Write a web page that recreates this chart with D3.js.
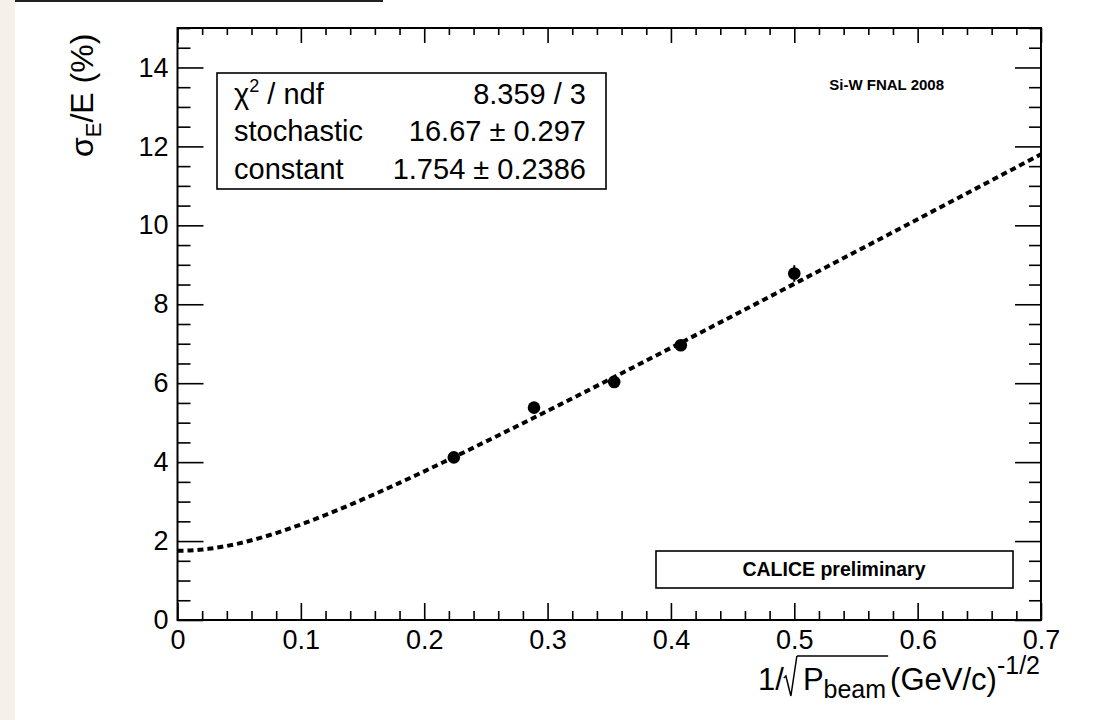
<!DOCTYPE html>
<html>
<head>
<meta charset="utf-8">
<script src="https://cdn.jsdelivr.net/npm/d3@7"></script>
<style>
  body { margin: 0; background: #fff; }
  svg text { font-family: "Liberation Sans", Arial, Helvetica, sans-serif; fill: #000; }
</style>
</head>
<body>
<div id="chart"></div>
<script>
// measured points: x = 1/sqrt(P_beam), y = sigma_E/E in %
var invSqrtP = [0.224, 0.289, 0.354, 0.408, 0.500];
var resolution = [4.12, 5.38, 6.03, 6.96, 8.78];
var resError = [0.10, 0.12, 0.12, 0.13, 0.21];

// fit results (from the stats box)
var fitStochastic = 16.67;
var fitConstant = 1.754;
var statsRows = [
    ["chi", "8.359 / 3"],
    ["stochastic", "16.67 \u00b1 0.297"],
    ["constant", "1.754 \u00b1 0.2386"]
];

var xTicks = [0, 0.1, 0.2, 0.3, 0.4, 0.5, 0.6, 0.7];
var yTicks = [0, 2, 4, 6, 8, 10, 12, 14];

var W = 1094, H = 720;
var svg = d3.select("#chart").append("svg")
        .attr("width", W)
        .attr("height", H);

// beige strip + top rule from the page the plot was cut from
svg.append("rect").attr("x", 0).attr("y", 0).attr("width", 15).attr("height", H).attr("fill", "#f5f1ea");
svg.append("line").attr("x1", 15).attr("x2", 383).attr("y1", 1).attr("y2", 1)
        .attr("stroke", "#222").attr("stroke-width", 2);

var x = d3.scaleLinear().domain([0, 0.7]).range([177.5, 1041]);
var y = d3.scaleLinear().domain([0, 15]).range([620, 28]);

var xMinor = d3.range(0, 0.7001, 0.02).filter(function (d) { return Math.abs(d * 10 - Math.round(d * 10)) > 1e-6; });
var yMinor = d3.range(0, 15.001, 0.5).filter(function (d) { return d % 2 !== 0; });

var fmtX = function (d) { return d === 0 ? "0" : d3.format(".1f")(d); };

function styleAxis(g) {
    g.select(".domain").remove();
    g.selectAll(".tick line").attr("stroke", "#000").attr("stroke-width", 1.6);
    g.selectAll(".tick text").attr("font-size", 27);
}

// bottom
svg.append("g").attr("transform", "translate(0," + y(0) + ")")
        .call(d3.axisBottom(x).tickValues(xTicks).tickSize(-17).tickPadding(10).tickFormat(fmtX))
        .call(styleAxis);
svg.append("g").attr("transform", "translate(0," + y(0) + ")")
        .call(d3.axisBottom(x).tickValues(xMinor).tickSize(-9).tickFormat(""))
        .call(styleAxis);
// top
svg.append("g").attr("transform", "translate(0," + y(15) + ")")
        .call(d3.axisTop(x).tickValues(xTicks).tickSize(-15).tickFormat(""))
        .call(styleAxis);
svg.append("g").attr("transform", "translate(0," + y(15) + ")")
        .call(d3.axisTop(x).tickValues(xMinor).tickSize(-7).tickFormat(""))
        .call(styleAxis);
// left
svg.append("g").attr("transform", "translate(" + x(0) + ",0)")
        .call(d3.axisLeft(y).tickValues(yTicks).tickSize(-26).tickPadding(9).tickFormat(d3.format("d")))
        .call(styleAxis);
svg.append("g").attr("transform", "translate(" + x(0) + ",0)")
        .call(d3.axisLeft(y).tickValues(yMinor).tickSize(-13).tickFormat(""))
        .call(styleAxis);
// right
svg.append("g").attr("transform", "translate(" + x(0.7) + ",0)")
        .call(d3.axisRight(y).tickValues(yTicks).tickSize(-26).tickFormat(""))
        .call(styleAxis);
svg.append("g").attr("transform", "translate(" + x(0.7) + ",0)")
        .call(d3.axisRight(y).tickValues(yMinor).tickSize(-12).tickFormat(""))
        .call(styleAxis);

// frame
svg.append("rect")
        .attr("x", x(0)).attr("y", y(15))
        .attr("width", x(0.7) - x(0)).attr("height", y(0) - y(15))
        .attr("fill", "none").attr("stroke", "#000").attr("stroke-width", 2);

// fit curve: sqrt((a*x)^2 + c^2)
var fitX = d3.range(0, 0.7001, 0.005);
var line = d3.line()
        .x(function (d) { return x(d); })
        .y(function (d) { return y(Math.sqrt(Math.pow(fitStochastic * d, 2) + fitConstant * fitConstant)); });
svg.append("path").datum(fitX)
        .attr("d", line)
        .attr("fill", "none")
        .attr("stroke", "#000")
        .attr("stroke-width", 4)
        .attr("stroke-dasharray", "6,4");

// data points
var pts = invSqrtP.map(function (v, i) { return {x: v, y: resolution[i], e: resError[i]}; });
svg.selectAll("line.err").data(pts).enter().append("line")
        .attr("class", "err")
        .attr("x1", function (d) { return x(d.x); })
        .attr("x2", function (d) { return x(d.x); })
        .attr("y1", function (d) { return y(d.y - d.e); })
        .attr("y2", function (d) { return y(d.y + d.e); })
        .attr("stroke", "#000").attr("stroke-width", 2);
svg.selectAll("circle.pt").data(pts).enter().append("circle")
        .attr("class", "pt")
        .attr("cx", function (d) { return x(d.x); })
        .attr("cy", function (d) { return y(d.y); })
        .attr("r", 6.3)
        .attr("fill", "#000");

// stats box
svg.append("rect").attr("x", 217).attr("y", 73).attr("width", 389).attr("height", 116)
        .attr("fill", "#fff").attr("stroke", "#000").attr("stroke-width", 1.6);
var rowY = [104, 141, 179];
statsRows.forEach(function (r, i) {
    var t = svg.append("text").attr("x", 234).attr("y", rowY[i]).attr("font-size", 29);
    if (r[0] === "chi") {
        t.append("tspan").text("\u03c7");
        t.append("tspan").attr("font-size", 18).attr("dy", -12).text("2");
        t.append("tspan").attr("dy", 12).text(" / ndf");
    } else {
        t.text(r[0]);
    }
    svg.append("text").attr("x", 586).attr("y", rowY[i]).attr("font-size", 29)
            .attr("text-anchor", "end").text(r[1]);
});

// labels
svg.append("text").attr("x", 944).attr("y", 90).attr("text-anchor", "end")
        .attr("font-size", 15).attr("font-weight", "bold").text("Si-W FNAL 2008");

svg.append("rect").attr("x", 656).attr("y", 551).attr("width", 357).attr("height", 37)
        .attr("fill", "#fff").attr("stroke", "#000").attr("stroke-width", 1.6);
svg.append("text").attr("x", 834).attr("y", 576).attr("text-anchor", "middle")
        .attr("font-size", 19.5).attr("font-weight", "bold").text("CALICE preliminary");

// y title
var yt = svg.append("text")
        .attr("transform", "translate(93,157) rotate(-90)")
        .attr("font-size", 32);
yt.append("tspan").text("\u03c3");
yt.append("tspan").attr("font-size", 22).attr("dy", 8).text("E");
yt.append("tspan").attr("dy", -8).text("/E (%)");

// x title built piece by piece, right aligned
var xt = svg.append("g");
var cx = 0;
function piece(str, size, dy) {
    var t = xt.append("text").attr("x", cx).attr("y", dy).attr("font-size", size).text(str);
    var w = t.node().getComputedTextLength();
    cx += w;
    return {x0: cx - w, w: w};
}
piece("1/", 31, 0);
// radical sign drawn by hand, like ROOT's #sqrt
var r0 = cx;
xt.append("path")
        .attr("d", "M" + r0 + ",-12 L" + (r0 + 2) + ",-14 L" + (r0 + 7) + ",6 L" + (r0 + 13) + ",-34")
        .attr("fill", "none").attr("stroke", "#000").attr("stroke-width", 1.5);
cx += 19;
piece("P", 31, 0);
piece("beam", 25, 8);
xt.append("line").attr("x1", r0 + 13).attr("x2", cx + 2)
        .attr("y1", -34).attr("y2", -34).attr("stroke", "#000").attr("stroke-width", 1.6);
cx += 4;
piece(" (GeV/c)", 31, 0);
piece("-1/2", 25, -16);
xt.attr("transform", "translate(" + (1040 - cx) + ",690)");
</script>
</body>
</html>
